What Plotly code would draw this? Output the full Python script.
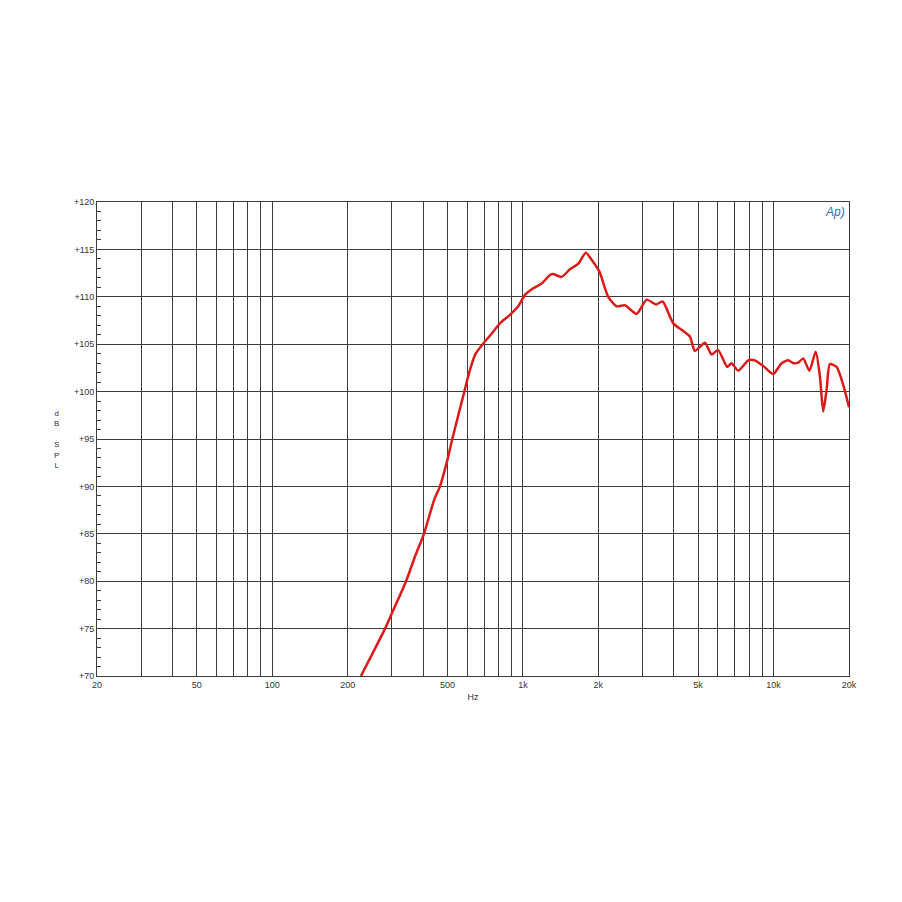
import plotly.graph_objects as go

# Frequency response data (Hz, dB SPL)
freq_hz = [226, 255, 282, 300, 342, 370, 403, 443, 467, 500, 523, 584, 615, 648, 691,
           750, 810, 888, 958, 1019, 1100, 1188, 1282, 1320, 1428, 1540, 1663, 1784,
           1880, 2020, 2190, 2366, 2554, 2844, 3117, 3397, 3610, 3980, 4364, 4640,
           4856, 5324, 5662, 6000, 6536, 6800, 7228, 7926, 8420, 9100, 9970, 10770,
           11440, 11970, 12540, 13136, 13900, 14730, 15310, 15780, 16280, 16780,
           17850, 18970, 20000]
spl_db = [70.0, 72.7, 75.0, 76.6, 80.0, 82.5, 85.0, 88.6, 90.0, 92.8, 95.0, 100.0,
          102.3, 104.0, 105.0, 106.1, 107.2, 108.1, 109.0, 110.2, 110.9, 111.4, 112.3,
          112.4, 112.1, 112.9, 113.5, 114.65, 113.9, 112.65, 110.0, 109.0, 109.1,
          108.2, 109.7, 109.2, 109.5, 107.2, 106.4, 105.8, 104.3, 105.15, 103.9,
          104.4, 102.6, 103.0, 102.2, 103.3, 103.3, 102.7, 101.85, 103.0, 103.3,
          103.0, 103.05, 103.5, 102.2, 104.2, 101.6, 97.9, 100.2, 102.9, 102.6,
          100.7, 98.35]

# Axis ticks
x_grid = [20, 30, 40, 50, 60, 70, 80, 90, 100, 200, 300, 400, 500, 600, 700, 800,
          900, 1000, 2000, 3000, 4000, 5000, 6000, 7000, 8000, 9000, 10000, 20000]
x_labels = {20: "20", 50: "50", 100: "100", 200: "200", 500: "500", 1000: "1k",
            2000: "2k", 5000: "5k", 10000: "10k", 20000: "20k"}
y_ticks = [70, 75, 80, 85, 90, 95, 100, 105, 110, 115, 120]
y_labels = ["+%d" % v for v in y_ticks]

fig = go.Figure()
fig.add_trace(go.Scatter(
    x=freq_hz, y=spl_db, mode="lines",
    line=dict(color="#dc1a1a", width=2.5, shape="spline", smoothing=0.6),
    hoverinfo="skip", showlegend=False))

grid_col = "#3c3c3c"
tick_font = dict(family="Liberation Sans, Arial, sans-serif", size=9, color="#333333")

fig.update_xaxes(
    type="log", range=[1.30103, 4.30103],
    tickvals=x_grid, ticktext=[x_labels.get(v, "") for v in x_grid],
    showgrid=True, gridcolor=grid_col, gridwidth=1,
    showline=True, linecolor=grid_col, linewidth=1, mirror=True,
    ticks="", tickfont=tick_font, zeroline=False,
    title=dict(text="Hz", font=tick_font, standoff=4),
)
fig.update_yaxes(
    range=[70, 120], tickvals=y_ticks, ticktext=y_labels,
    showgrid=True, gridcolor=grid_col, gridwidth=1,
    showline=True, linecolor=grid_col, linewidth=1, mirror=True,
    ticks="inside", ticklen=5, tickcolor=grid_col, tickfont=tick_font,
    minor=dict(dtick=1, ticks="inside", ticklen=4, tickcolor=grid_col, showgrid=False),
    zeroline=False,
)

fig.add_annotation(
    text="d<br>B<br> <br>S<br>P<br>L", xref="paper", yref="paper",
    x=-0.0545, y=0.5, xanchor="center", yanchor="middle",
    showarrow=False, align="center",
    font=dict(family="Liberation Sans, Arial, sans-serif", size=8, color="#333333"),
)
fig.add_annotation(
    text="<i>Ap)</i>", xref="paper", yref="paper", x=0.998, y=0.997,
    xanchor="right", yanchor="top", showarrow=False,
    font=dict(family="Liberation Sans, Arial, sans-serif", size=12, color="#2a6fb8"),
)

fig.update_layout(
    width=902, height=902,
    margin=dict(l=89, r=61, t=194, b=234),
    paper_bgcolor="white", plot_bgcolor="white",
)

fig.write_html("out.html")
